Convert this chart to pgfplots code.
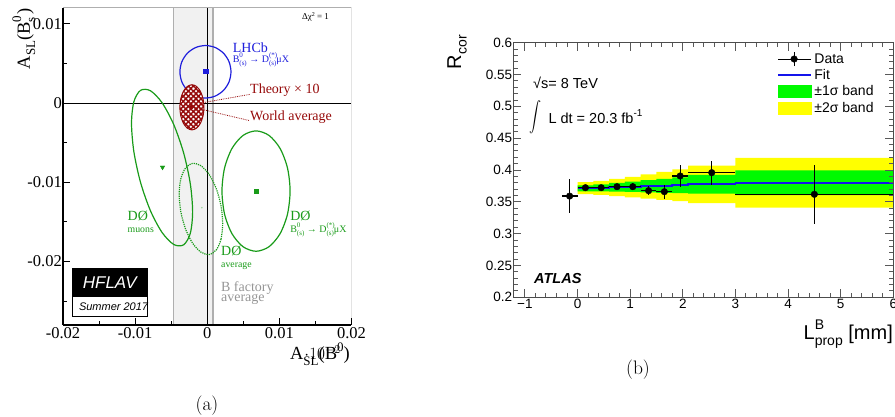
\documentclass[border=0pt]{standalone}
\usepackage{pgfplots}
\pgfplotsset{compat=1.18}
\usetikzlibrary{patterns,patterns.meta}
\usepackage{fontspec}
\newfontfamily\timesf{Liberation Serif}
\newfontfamily\arialf{Liberation Sans}
\definecolor{lhcbblue}{RGB}{30,30,220}
\definecolor{dzgreen}{RGB}{25,155,25}
\definecolor{wared}{RGB}{150,10,10}
\definecolor{bandgray}{RGB}{241,241,241}
\definecolor{bandedge}{RGB}{175,175,175}
\definecolor{bfgray}{RGB}{150,150,150}
\definecolor{fitblue}{RGB}{20,20,235}
\definecolor{sigone}{RGB}{0,250,0}
\definecolor{sigtwo}{RGB}{255,255,0}
\newcommand{\fs}[1]{\fontsize{#1}{#1}\selectfont}
% decay label: B^0_(s) -> D^(*)_(s) mu X
\newcommand{\decay}{B\rlap{\raisebox{0.5em}{\fs{7}0}}\raisebox{-0.3em}{\fs{7}(s)} → D\rlap{\raisebox{0.5em}{\fs{7}(*)}}\raisebox{-0.3em}{\fs{7}(s)}μX}
\begin{document}
\begin{tikzpicture}
\path[use as bounding box] (0pt,0pt) rectangle (895pt,417pt);
% ---------------- panel (a)
\begin{axis}[
  at={(63pt,92pt)}, anchor=south west,
  scale only axis, width=288.5pt, height=317pt,
  xmin=-0.02, xmax=0.02, ymin=-0.028, ymax=0.012,
  axis lines*=left, axis line style={line width=1.3pt, -},
  tick align=inside, axis on top,
  xtick={-0.02,-0.01,0,0.01,0.02}, xticklabels={-0.02,-0.01,0,0.01,0.02},
  minor xtick={-0.015,-0.005,0.005,0.015},
  ytick={-0.02,-0.01,0,0.01}, yticklabels={-0.02,-0.01,0,0.01},
  minor ytick={-0.025,-0.015,-0.005,0.005},
  major tick length=7pt, minor tick length=4pt,
  tick style={black, line width=1pt},
  tick label style={font=\timesf\fs{16.5}},
  yticklabel style={inner xsep=1pt},
  xticklabel style={inner ysep=2pt},
]
\addplot[fill=bandgray, draw=none] coordinates {(-0.0047,-0.028)(-0.0047,0.012)(0.0008,0.012)(0.0008,-0.028)};
\addplot[bandedge, line width=1.5pt] coordinates {(-0.0047,-0.028)(-0.0047,0.012)};
\addplot[bandedge, line width=1.5pt] coordinates {(0.0008,-0.028)(0.0008,0.012)};
\addplot[black, line width=1pt] coordinates {(-0.02,0)(0.02,0)};
\addplot[black, line width=1pt] coordinates {(0,-0.028)(0,0.012)};
% D0 muons
\addplot[dzgreen, line width=1.2pt, smooth cycle] coordinates {
(-0.002028,-0.013729)(-0.002350,-0.016436)(-0.003269,-0.017880)(-0.004643,-0.017840)
(-0.006264,-0.016324)(-0.007885,-0.013562)(-0.009259,-0.009974)(-0.010178,-0.006106)
(-0.010500,-0.002549)(-0.010178,0.000158)(-0.009259,0.001602)(-0.007885,0.001562)
(-0.006264,0.000046)(-0.004643,-0.002716)(-0.003269,-0.006304)(-0.002350,-0.010172)};
% D0 average
\addplot[dzgreen, line width=1.2pt, densely dotted, smooth cycle] coordinates {
(0.002139,-0.015212)(0.001910,-0.017157)(0.001256,-0.018522)(0.000278,-0.019101)
(-0.000875,-0.018805)(-0.002028,-0.017679)(-0.003006,-0.015894)(-0.003660,-0.013723)
(-0.003889,-0.011496)(-0.003660,-0.009551)(-0.003006,-0.008186)(-0.002028,-0.007607)
(-0.000875,-0.007903)(0.000278,-0.009029)(0.001256,-0.010814)(0.001910,-0.012985)};
% D0 Bs
\addplot[dzgreen, line width=1.2pt, smooth cycle] coordinates {
(0.011486,-0.011101)(0.011127,-0.008194)(0.010103,-0.005731)(0.008571,-0.004084)
(0.006764,-0.003506)(0.004957,-0.004084)(0.003425,-0.005731)(0.002401,-0.008194)
(0.002042,-0.011101)(0.002401,-0.014008)(0.003425,-0.016471)(0.004957,-0.018118)
(0.006764,-0.018696)(0.008571,-0.018118)(0.010103,-0.016471)(0.011127,-0.014008)};
% LHCb
\addplot[lhcbblue, line width=1.2pt, smooth cycle] coordinates {
(0.003292,0.003949)(0.003022,0.005218)(0.002255,0.006294)(0.001106,0.007013)
(-0.00025,0.007265)(-0.001606,0.007013)(-0.002755,0.006294)(-0.003522,0.005218)
(-0.003792,0.003949)(-0.003522,0.002680)(-0.002755,0.001604)(-0.001606,0.000885)
(-0.00025,0.000633)(0.001106,0.000885)(0.002255,0.001604)(0.003022,0.002680)};
% world average: white base, two layers of thick red hatching, red outline
\addplot[draw=none, fill=white, smooth cycle] coordinates {
(-0.000458,-0.000532)(-0.000585,0.000558)(-0.000946,0.001482)(-0.001487,0.002099)
(-0.002125,0.002316)(-0.002763,0.002099)(-0.003304,0.001482)(-0.003665,0.000558)
(-0.003792,-0.000532)(-0.003665,-0.001622)(-0.003304,-0.002546)(-0.002763,-0.003163)
(-0.002125,-0.003380)(-0.001487,-0.003163)(-0.000946,-0.002546)(-0.000585,-0.001622)};
\addplot[draw=none, pattern={Lines[angle=45, distance=3.6pt, line width=1.5pt]}, pattern color=wared, smooth cycle] coordinates {
(-0.000458,-0.000532)(-0.000585,0.000558)(-0.000946,0.001482)(-0.001487,0.002099)
(-0.002125,0.002316)(-0.002763,0.002099)(-0.003304,0.001482)(-0.003665,0.000558)
(-0.003792,-0.000532)(-0.003665,-0.001622)(-0.003304,-0.002546)(-0.002763,-0.003163)
(-0.002125,-0.003380)(-0.001487,-0.003163)(-0.000946,-0.002546)(-0.000585,-0.001622)};
\addplot[draw=none, pattern={Lines[angle=-45, distance=3.6pt, line width=1.5pt]}, pattern color=wared, smooth cycle] coordinates {
(-0.000458,-0.000532)(-0.000585,0.000558)(-0.000946,0.001482)(-0.001487,0.002099)
(-0.002125,0.002316)(-0.002763,0.002099)(-0.003304,0.001482)(-0.003665,0.000558)
(-0.003792,-0.000532)(-0.003665,-0.001622)(-0.003304,-0.002546)(-0.002763,-0.003163)
(-0.002125,-0.003380)(-0.001487,-0.003163)(-0.000946,-0.002546)(-0.000585,-0.001622)};
\addplot[wared, line width=1pt, smooth cycle] coordinates {
(-0.000458,-0.000532)(-0.000585,0.000558)(-0.000946,0.001482)(-0.001487,0.002099)
(-0.002125,0.002316)(-0.002763,0.002099)(-0.003304,0.001482)(-0.003665,0.000558)
(-0.003792,-0.000532)(-0.003665,-0.001622)(-0.003304,-0.002546)(-0.002763,-0.003163)
(-0.002125,-0.003380)(-0.001487,-0.003163)(-0.000946,-0.002546)(-0.000585,-0.001622)};
% markers
\addplot[only marks, mark=triangle*, mark size=2.6pt, dzgreen, mark options={rotate=180}] coordinates {(-0.0062,-0.0081)};
\addplot[only marks, mark=square*, mark size=2.2pt, dzgreen] coordinates {(0.0068,-0.0111)};
\addplot[only marks, mark=square*, mark size=2.2pt, lhcbblue] coordinates {(-0.0002,0.0040)};
\addplot[only marks, mark=*, mark size=2pt, wared] coordinates {(-0.0022,-0.0005)};
\addplot[only marks, mark=*, mark size=0.6pt, dzgreen!40] coordinates {(-0.00075,-0.0132)};
% pointer lines
\addplot[wared, densely dotted, line width=0.8pt] coordinates {(-0.0003,0.0001)(0.0059,0.0011)};
\addplot[wared, densely dotted, line width=0.8pt] coordinates {(-0.0021,-0.0005)(0.0058,-0.0022)};
% frame top/right
\draw[bandedge, line width=1pt] (rel axis cs:0,1) -- (rel axis cs:1,1) -- (rel axis cs:1,0);
% texts
\node[anchor=west, inner sep=0pt] at (axis cs:0.01311,0.01085) {\timesf\fs{9}Δχ\raisebox{0.4em}{\fs{6}2} = 1};
\node[anchor=west, inner sep=0pt, text=lhcbblue] at (axis cs:0.00353,0.00705) {\timesf\fs{14}LHCb};
\node[anchor=west, inner sep=0pt, text=lhcbblue] at (axis cs:0.00351,0.00552) {\timesf\fs{10}\decay};
\node[anchor=west, inner sep=0pt, text=wared] at (axis cs:0.00593,0.00168) {\timesf\fs{14}Theory × 10};
\node[anchor=west, inner sep=0pt, text=wared] at (axis cs:0.00593,-0.00177) {\timesf\fs{14}World average};
\node[anchor=west, inner sep=0pt, text=dzgreen] at (axis cs:-0.01106,-0.01427) {\timesf\fs{14}DØ};
\node[anchor=west, inner sep=0pt, text=dzgreen] at (axis cs:-0.01106,-0.01604) {\timesf\fs{9.8}muons};
\node[anchor=west, inner sep=0pt, text=dzgreen] at (axis cs:0.0019,-0.0187) {\timesf\fs{14}DØ};
\node[anchor=west, inner sep=0pt, text=dzgreen] at (axis cs:0.0019,-0.0206) {\timesf\fs{9.8}average};
\node[anchor=west, inner sep=0pt, text=dzgreen] at (axis cs:0.01149,-0.01427) {\timesf\fs{14}DØ};
\node[anchor=west, inner sep=0pt, text=dzgreen] at (axis cs:0.01149,-0.01595) {\timesf\fs{10}\decay};
\node[anchor=west, inner sep=0pt, text=bfgray] at (axis cs:0.0019,-0.02333) {\timesf\fs{14}B factory};
\node[anchor=west, inner sep=0pt, text=bfgray] at (axis cs:0.0019,-0.02472) {\timesf\fs{14}average};
% HFLAV logo
\fill[black] (axis cs:-0.01869,-0.02089) rectangle (axis cs:-0.00833,-0.02443);
\fill[white] (axis cs:-0.01869,-0.02443) rectangle (axis cs:-0.00833,-0.02696);
\draw[black, line width=1pt] (axis cs:-0.01869,-0.02089) rectangle (axis cs:-0.00833,-0.02696);
\node[text=white, inner sep=0pt] at (axis cs:-0.01351,-0.02266) {\arialf\itshape\fs{17}HFLAV};
\node[inner sep=0pt] at (axis cs:-0.01299,-0.0257) {\arialf\itshape\fs{11}Summer 2017};
\end{axis}
% ---------------- panel (b)
\begin{axis}[
  at={(513.3pt,119.7pt)}, anchor=south west,
  scale only axis, width=380pt, height=254.6pt,
  xmin=-1.22, xmax=6, ymin=0.2, ymax=0.6,
  xtick={-1,0,1,2,3,4,5,6}, xticklabels={−1,0,1,2,3,4,5,6},
  ytick={0.2,0.25,0.3,0.35,0.4,0.45,0.5,0.55,0.6},
  yticklabels={0.2,0.25,0.3,0.35,0.4,0.45,0.5,0.55,0.6},
  minor x tick num=4, minor y tick num=4,
  tick align=inside, major tick length=8pt, minor tick length=4.5pt,
  axis line style={black!70, line width=1pt}, tick style={black!65, line width=0.9pt},
  tick label style={font=\arialf\fs{13.5}},
  yticklabel style={inner xsep=1pt}, xticklabel style={inner ysep=1.5pt},
  axis on top,
  legend style={draw=none, fill=none, at={(rel axis cs:0.694,0.968)}, anchor=north west,
    font=\arialf\fs{14}, inner sep=0pt, row sep=0pt, nodes={inner sep=2.4pt},
    /tikz/every even column/.append style={column sep=4pt}},
  legend cell align=left,
]
\addlegendimage{legend image code/.code={\draw[black,line width=1.2pt] (16pt,-7pt)--(16pt,7pt); \fill[black] (16pt,0pt) circle (3.3pt); \path (0pt,0pt)--(33pt,0pt);}}
\addlegendentry{Data}
\addlegendimage{legend image code/.code={\draw[fitblue,line width=1.8pt] (0pt,0pt)--(33pt,0pt);}}
\addlegendentry{Fit}
\addlegendimage{legend image code/.code={\fill[sigone] (0pt,-6pt) rectangle (33pt,6pt);}}
\addlegendentry{±1σ band}
\addlegendimage{legend image code/.code={\fill[sigtwo] (0pt,-6pt) rectangle (33pt,6pt);}}
\addlegendentry{±2σ band}
% 2 sigma band
\addplot[forget plot, fill=sigtwo, draw=none] coordinates {
(0,0.381)(0.3,0.381)(0.3,0.383)(0.6,0.383)(0.6,0.386)(0.9,0.386)(0.9,0.389)(1.2,0.389)
(1.2,0.393)(1.5,0.393)(1.5,0.397)(1.8,0.397)(1.8,0.401)(2.1,0.401)(2.1,0.407)(3,0.407)
(3,0.419)(6,0.419)(6,0.341)(3,0.341)(3,0.348)(2.1,0.348)(2.1,0.351)(1.8,0.351)
(1.8,0.353)(1.5,0.353)(1.5,0.355)(1.2,0.355)(1.2,0.357)(0.9,0.357)(0.9,0.359)(0.6,0.359)
(0.6,0.361)(0.3,0.361)(0.3,0.362)(0,0.362)};
% 1 sigma band
\addplot[forget plot, fill=sigone, draw=none] coordinates {
(0,0.3760)(0.3,0.3760)(0.3,0.3775)(0.6,0.3775)(0.6,0.3796)(0.9,0.3796)(0.9,0.3816)(1.2,0.3816)
(1.2,0.3839)(1.5,0.3839)(1.5,0.3862)(1.8,0.3862)(1.8,0.3885)(2.1,0.3885)(2.1,0.3923)(3,0.3923)
(3,0.3995)(6,0.3995)(6,0.3605)(3,0.3605)(3,0.3627)(2.1,0.3627)(2.1,0.3635)(1.8,0.3635)
(1.8,0.3642)(1.5,0.3642)(1.5,0.3649)(1.2,0.3649)(1.2,0.3656)(0.9,0.3656)(0.9,0.3660)(0.6,0.3660)
(0.6,0.3665)(0.3,0.3665)(0.3,0.3664)(0,0.3664)};
% fit
\addplot[forget plot, const plot, fitblue, line width=1.8pt] coordinates {
(0,0.3712)(0.3,0.3720)(0.6,0.3728)(0.9,0.3736)(1.2,0.3744)(1.5,0.3752)(1.8,0.3760)(2.1,0.3775)(3,0.3800)(6,0.3800)};
% data
\addplot[forget plot, only marks, mark=*, mark size=3.3pt, black,
  error bars/.cd, x dir=both, x explicit, y dir=both, y explicit,
  error mark=none, error bar style={line width=1.2pt, black}]
  coordinates {
  (-0.15,0.359) +- (0.15,0.027)
  (0.15,0.3722) +- (0.15,0.004)
  (0.45,0.3722) +- (0.15,0.004)
  (0.75,0.3738) +- (0.15,0.004)
  (1.05,0.3738) +- (0.15,0.005)
  (1.35,0.3675) +- (0.15,0.007)
  (1.65,0.3659) +- (0.15,0.011)
  (1.95,0.3906) +- (0.15,0.0175)
  (2.55,0.3958) +- (0.45,0.019)
  (4.5,0.3618) +- (1.5,0.046)};
\node[anchor=west, inner sep=0pt] at (rel axis cs:0.0518,0.8405) {\arialf\fs{14.5}√s= 8 TeV};
\node[inner sep=0pt, xscale=1.2, yscale=1.5] at (rel axis cs:0.0597,0.708) {$\displaystyle\int$};
\node[anchor=west, inner sep=0pt] at (rel axis cs:0.0921,0.7093) {\arialf\fs{14.5}L dt = 20.3 fb\raisebox{0.45em}{\fs{10}-1}};
\node[anchor=west, inner sep=0pt] at (rel axis cs:0.0545,0.0719) {\arialf\bfseries\itshape\fs{14.5}ATLAS};
\end{axis}
% axis titles
\node[rotate=90, anchor=base east, inner sep=0pt] at (30pt,409pt) {\timesf\fs{18.5}A\raisebox{-0.28em}{\fs{13}SL}(B\rlap{\raisebox{0.48em}{\fs{13}0}}\raisebox{-0.28em}{\fs{13}s}\hspace{0.15em})};
\node[anchor=base east, inner sep=0pt] at (350pt,57pt) {\timesf\fs{18.5}A\raisebox{-0.28em}{\fs{13}SL}(B\raisebox{0.48em}{\fs{13}0})};
\node[rotate=90, anchor=base east, inner sep=0pt] at (461pt,382pt) {\arialf\fs{20}R\raisebox{-0.28em}{\fs{14}cor}};
\node[anchor=base east, inner sep=0pt] at (893pt,77pt) {\arialf\fs{20}L\rlap{\raisebox{0.5em}{\fs{14}B}}\raisebox{-0.3em}{\fs{14}prop} [mm]};
\node at (207pt,11pt) {\fs{19.5}(a)};
\node at (638pt,47pt) {\fs{19.5}(b)};
\end{tikzpicture}
\end{document}
